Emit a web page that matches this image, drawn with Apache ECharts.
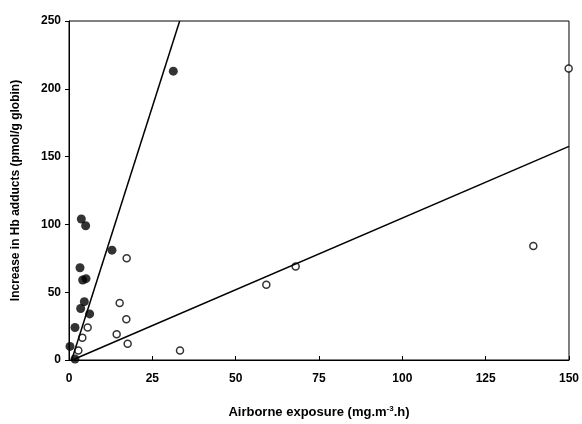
<!DOCTYPE html>
<html><head><meta charset="utf-8">
<script src="https://cdn.jsdelivr.net/npm/echarts@6/dist/echarts.min.js"></script>
<style>html,body{margin:0;padding:0;background:#fff}#c{width:582px;height:424px}</style>
</head><body><div id="c"></div>
<script>
var filledPoints = [[3.7,104],[5.0,99],[12.9,81],[3.3,68],[4.1,59],[5.1,60],[4.6,43],[3.5,38],[6.2,34],[1.8,24],[0.3,10],[1.8,0.7],[31.3,213]];
var openPoints = [[17.3,75],[15.2,42],[17.2,30],[5.6,24],[4.0,16.5],[14.3,19],[17.6,12],[2.8,7],[33.3,7],[59.2,55.5],[68.0,69],[139.3,84],[149.9,215]];
var steepLine = [[0.8,0],[33.2,250]];
var shallowLine = [[1,0],[150,157.5]];
var xTicks = [0,25,50,75,100,125,150];
var yTicks = [0,50,100,150,200,250];

var chart = echarts.init(document.getElementById('c'));
var axisFont = {fontFamily:'Liberation Sans', fontWeight:'bold', fontSize:12, color:'#000'};
var nameFont = {fontFamily:'Liberation Sans', fontWeight:'bold', fontSize:13, color:'#000'};
chart.setOption({
  backgroundColor:'#fff',
  animation:false,
  grid:{left:69,right:11,top:21,bottom:61,show:true,borderColor:'#000',borderWidth:1},
  xAxis:{type:'value',min:xTicks[0],max:xTicks[xTicks.length-1],interval:25,
    name:'{a|Airborne exposure (mg.m}{s|-3}{a|.h)}',nameLocation:'middle',nameGap:45,
    nameTextStyle:{rich:{a:nameFont,
      s:{fontFamily:'Liberation Sans',fontWeight:'bold',fontSize:8,color:'#000',verticalAlign:'top',padding:[0,0,7,0]}}},
    axisLine:{lineStyle:{color:'#000',width:1}},
    axisTick:{show:true,inside:true,length:4,lineStyle:{color:'#000'}},
    axisLabel:Object.assign({margin:13},axisFont),
    splitLine:{show:false}},
  yAxis:{type:'value',min:yTicks[0],max:yTicks[yTicks.length-1],interval:50,
    name:'Increase in Hb adducts (pmol/g globin)',nameLocation:'middle',nameGap:47,
    nameTextStyle:axisFont,
    axisLine:{lineStyle:{color:'#000',width:1}},
    axisTick:{show:true,length:4,lineStyle:{color:'#000'}},
    axisLabel:Object.assign({margin:8},axisFont),
    splitLine:{show:false}},
  series:[
    {type:'line',data:steepLine,symbol:'none',lineStyle:{color:'#000',width:1.5},silent:true},
    {type:'line',data:shallowLine,symbol:'none',lineStyle:{color:'#000',width:1.5},silent:true},
    {type:'scatter',data:filledPoints,symbol:'circle',symbolSize:9,itemStyle:{color:'#000'}},
    {type:'scatter',data:openPoints,symbol:'circle',symbolSize:7,itemStyle:{color:'#fff',borderColor:'#000',borderWidth:1.5}}
  ]
});
</script></body></html>
